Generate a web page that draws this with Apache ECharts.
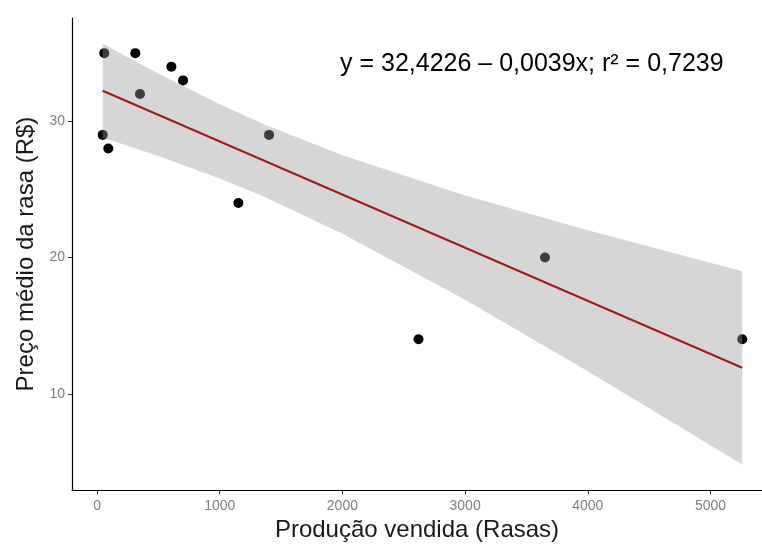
<!DOCTYPE html>
<html>
<head>
<meta charset="utf-8">
<script src="https://cdn.jsdelivr.net/npm/echarts@6/dist/echarts.min.js"></script>
<style>
html, body { margin: 0; padding: 0; background: #fff; }
#chart { width: 762px; height: 547px; }
</style>
</head>
<body>
<div id="chart"></div>
<script>
// pontos observados
const prodX = [46, 59, 92, 312, 350, 606, 701, 1152, 1402, 2620, 3651, 5259];
const precoY = [29, 35, 28, 35, 32, 34, 33, 24, 29, 14, 20, 14];

// reta ajustada (extremos)
const lineX = [46, 5259];
const lineY = [32.24, 11.91];

// faixa de confiança
const bandX = [46, 250, 500, 1000, 1354, 2000, 3000, 4000, 5259];
const bandUpper = [35.7, 34.7, 33.5, 31.25, 29.8, 27.5, 24.55, 22.0, 19.0];
const bandLower = [28.8, 28.2, 27.45, 25.8, 24.5, 21.75, 16.9, 11.65, 4.8];

const xTicks = [0, 1000, 2000, 3000, 4000, 5000];
const yTicks = [10, 20, 30];

const chart = echarts.init(document.getElementById("chart"));

chart.setOption({
	backgroundColor: "#fff",
	animation: false,
	grid: {left: 72, right: 0, top: 18, bottom: 56},
	xAxis: {
		type: "value",
		min: -204,
		max: 5420,
		name: "Produção vendida (Rasas)",
		nameLocation: "middle",
		nameGap: 27,
		nameTextStyle: {fontSize: 24, color: "#1a1a1a", fontFamily: "Liberation Sans"},
		axisLine: {onZero: false, lineStyle: {color: "#000", width: 1.2}},
		axisTick: {customValues: xTicks, length: 4, lineStyle: {color: "#333"}},
		axisLabel: {
			customValues: xTicks,
			formatter: (v) => String(v),
			color: "#7f7f7f",
			fontSize: 14,
			margin: 9,
			fontFamily: "Liberation Sans"
		},
		splitLine: {show: false}
	},
	yAxis: {
		type: "value",
		min: 2.93,
		max: 37.58,
		name: "Preço médio da rasa (R$)",
		nameLocation: "middle",
		nameRotate: 90,
		nameGap: 34,
		nameTextStyle: {fontSize: 24, color: "#1a1a1a", fontFamily: "Liberation Sans"},
		axisLine: {show: true, onZero: false, lineStyle: {color: "#000", width: 1.2}},
		axisTick: {show: true, customValues: yTicks, length: 4, lineStyle: {color: "#333"}},
		axisLabel: {customValues: yTicks, color: "#7f7f7f", fontSize: 14, margin: 7, fontFamily: "Liberation Sans"},
		splitLine: {show: false}
	},
	graphic: [
		{
			type: "text",
			left: 340,
			top: 52,
			style: {
				text: "y = 32,4226 – 0,0039x; r² = 0,7239",
				fontSize: 25,
				fontFamily: "Liberation Sans",
				fill: "#000"
			}
		}
	],
	series: [
		{
			type: "scatter",
			z: 2,
			symbolSize: 10,
			itemStyle: {color: "#000", opacity: 1},
			data: prodX.map((x, i) => [x, precoY[i]])
		},
		{
			type: "custom",
			z: 3,
			data: [[0]],
			renderItem: function (params, api) {
				const pts = [];
				bandX.forEach((x, i) => pts.push(api.coord([x, bandUpper[i]])));
				for (let i = bandX.length - 1; i >= 0; i--) {
					pts.push(api.coord([bandX[i], bandLower[i]]));
				}
				return {
					type: "polygon",
					shape: {points: pts},
					style: {fill: "rgba(153,153,153,0.4)"}
				};
			}
		},
		{
			type: "line",
			z: 4,
			symbol: "none",
			lineStyle: {color: "#a01c1c", width: 2},
			data: lineX.map((x, i) => [x, lineY[i]])
		}
	]
});
</script>
</body>
</html>
